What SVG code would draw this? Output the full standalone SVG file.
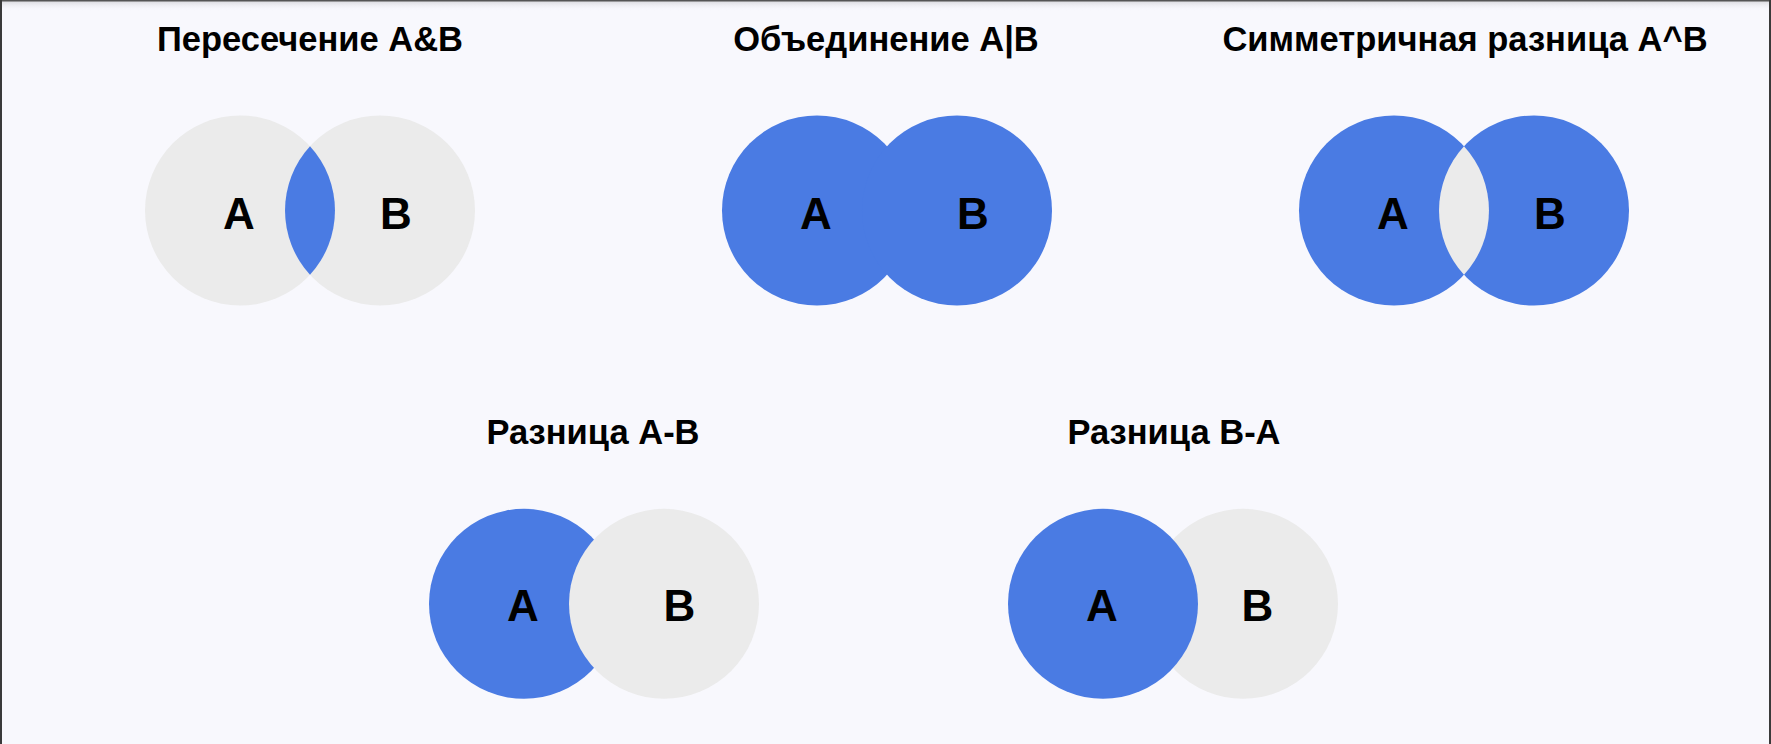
<svg xmlns="http://www.w3.org/2000/svg" width="1771" height="744" viewBox="0 0 1771 744">
  <defs>
    <linearGradient id="topShade" x1="0" y1="0" x2="0" y2="1">
      <stop offset="0" stop-color="#d9d9de"/>
      <stop offset="1" stop-color="#f8f8fd" stop-opacity="0"/>
    </linearGradient>
  </defs>
  <style>
    .bg { fill: #f8f8fd; }
    .blue { fill: #4a7be3; }
    .gray { fill: #ebebeb; }
    .title { font-family: "Liberation Sans", Arial, Helvetica, sans-serif; font-weight: bold; font-size: 34.5px; fill: #000; text-anchor: middle; }
    .lbl { font-family: "Liberation Sans", Arial, Helvetica, sans-serif; font-weight: bold; font-size: 44px; fill: #000; text-anchor: middle; }
  </style>
  <rect class="bg" x="0" y="0" width="1771" height="744"/>
  <rect x="0" y="1" width="1771" height="10" fill="url(#topShade)"/>
  <rect x="0" y="0" width="1771" height="1.5" fill="#555"/>
  <rect x="0" y="0" width="2" height="744" fill="#3a3a3a"/>
  <rect x="1769" y="0" width="2" height="744" fill="#3a3a3a"/>

  <g id="intersection">
    <text class="title" x="310" y="51">Пересечение A&amp;B</text>
    <circle class="gray" cx="240" cy="210.5" r="95"/>
    <circle class="gray" cx="380" cy="210.5" r="95"/>
    <path class="blue" d="M310,146.3 A95,95 0 0 1 310,274.7 A95,95 0 0 1 310,146.3 Z"/>
    <text class="lbl" x="239" y="228.5">A</text>
    <text class="lbl" x="396" y="228.5">B</text>
  </g>

  <g id="union">
    <text class="title" x="886" y="51">Объединение A|B</text>
    <circle class="blue" cx="817" cy="210.5" r="95"/>
    <circle class="blue" cx="957" cy="210.5" r="95"/>
    <text class="lbl" x="816" y="228.5">A</text>
    <text class="lbl" x="973" y="228.5">B</text>
  </g>

  <g id="symmetric">
    <text class="title" x="1465" y="51">Симметричная разница A^B</text>
    <circle class="blue" cx="1394" cy="210.5" r="95"/>
    <circle class="blue" cx="1534" cy="210.5" r="95"/>
    <path class="gray" d="M1464,146.3 A95,95 0 0 1 1464,274.7 A95,95 0 0 1 1464,146.3 Z"/>
    <text class="lbl" x="1393" y="228.5">A</text>
    <text class="lbl" x="1550" y="228.5">B</text>
  </g>

  <g id="diff-a-b">
    <text class="title" x="593" y="443.5">Разница A-B</text>
    <circle class="blue" cx="524" cy="603.8" r="95"/>
    <circle class="gray" cx="664" cy="603.8" r="95"/>
    <text class="lbl" x="523" y="621">A</text>
    <text class="lbl" x="679.5" y="621">B</text>
  </g>

  <g id="diff-b-a">
    <text class="title" x="1174" y="443.5">Разница B-A</text>
    <circle class="gray" cx="1243" cy="603.8" r="95"/>
    <circle class="blue" cx="1103" cy="603.8" r="95"/>
    <text class="lbl" x="1102" y="621">A</text>
    <text class="lbl" x="1257.5" y="621">B</text>
  </g>

  <g id="connectors"/>
</svg>
